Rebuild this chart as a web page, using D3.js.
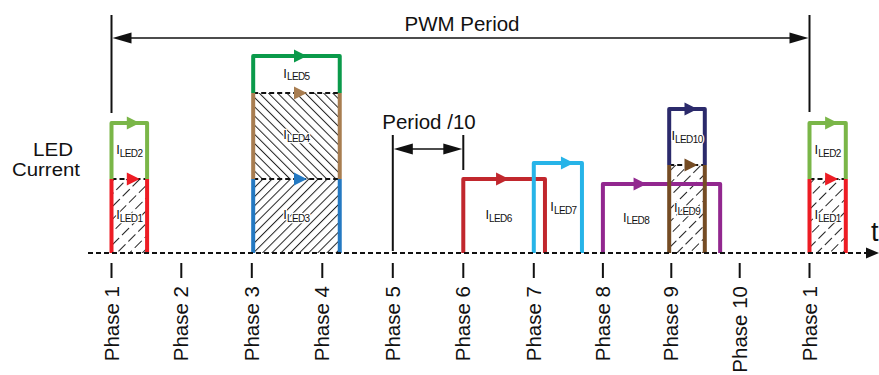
<!DOCTYPE html>
<html>
<head>
<meta charset="utf-8">
<script src="https://cdn.jsdelivr.net/npm/d3@7"></script>
<style>
  body { margin: 0; background: #fff; }
  text { font-family: "Liberation Sans", Arial, sans-serif; fill: #111; }
</style>
</head>
<body>
<div id="chart"></div>
<script>
var w = 879;
var h = 375;

// phases (x in phase units, 0 = first Phase 1)
var phaseLabels = ["Phase 1","Phase 2","Phase 3","Phase 4","Phase 5","Phase 6","Phase 7","Phase 8","Phase 9","Phase 10","Phase 1"];
var phaseTicks = [0, 1, 2.01, 3.02, 4.03, 5.04, 6.05, 7.04, 8.02, 9, 10];

// LED current pulses (x: phase units, y: relative current)
var ledNames  = ["LED1","LED2","LED3","LED4","LED5","LED6","LED7","LED8","LED9","LED10","LED1","LED2"];
var ledStart  = [0,    0,    2.03, 2.03, 2.03, 5.04, 6.05, 7.04, 7.99, 7.99, 10.0,  10.0];
var ledEnd    = [0.51, 0.51, 3.27, 3.27, 3.27, 6.21, 6.74, 8.72, 8.5,  8.5,  10.52, 10.52];
var ledLow    = [0,    37,   0,    37,   80,   0,    0,    0,    0,    44,   0,     37];
var ledHigh   = [37,   65,   37,   80,   98.5, 37,   45,   34.5, 44,   72,   37,    65];
var ledHatch  = ["/", null, "/", "\\", null, null, null, null, "/", null, "/", null];
var ledColors = ["#ed1c24","#7ab648","#2479c2","#a87d50","#0a9a4a","#c1272d","#27b4e8","#92278f","#754c24","#2b2a6b","#ed1c24","#7ab648"];

var svg = d3.select("#chart").append("svg")
  .attr("width", w).attr("height", h);

var x = d3.scaleLinear().domain([0, 10]).range([111.5, 809.5]);
var y = d3.scaleLinear().domain([0, 100]).range([253, 53]);

var defs = svg.append("defs");
function hatch(id, dir, gap, dash) {
  var p = defs.append("pattern").attr("id", id)
    .attr("patternUnits", "userSpaceOnUse")
    .attr("width", gap).attr("height", 14)
    .attr("patternTransform", "rotate(" + (dir == "/" ? 45 : -45) + ")");
  p.append("line").attr("x1", 0.5).attr("y1", 0).attr("x2", 0.5).attr("y2", 14)
    .attr("stroke", "#222").attr("stroke-width", 1)
    .attr("stroke-dasharray", dash);
}
hatch("hs", "/", 9, "10,4");   // sparse, broken
hatch("h1", "/", 6.5, null);
hatch("h2", "\\", 6.5, null);

var leds = ledNames.map(function(n, i) {
  return {name: n, s: ledStart[i], e: ledEnd[i], lo: ledLow[i], hi: ledHigh[i],
          hatch: ledHatch[i], color: ledColors[i], i: i};
});

// is something stacked on top of this pulse?
leds.forEach(function(d) {
  d.stacked = leds.some(function(o) { return o !== d && o.lo == d.hi && Math.abs(o.s - d.s) < 0.05; });
  d.narrow = (d.e - d.s) < 0.6;
  // label position: the part of the pulse not covered by a neighbour on the same base
  var a = d.s, b = d.e;
  leds.forEach(function(o) {
    if (o === d || o.lo != d.lo) return;
    if (o.s <= d.s && o.e >= d.e) return;
    if (o.s > d.s && o.s < d.e && o.e >= d.e) b = Math.min(b, o.s);
    if (o.e > d.s && o.e < d.e && o.s <= d.s) a = Math.max(a, o.e);
    if (o.s > d.s && o.e < d.e) { if (o.s - d.s > d.e - o.e) b = o.s; else a = o.e; }
  });
  d.lx = (x(a) + x(b)) / 2;
});

// hatch fills
svg.selectAll("rect.fill").data(leds.filter(function(d) { return d.hatch; }))
  .enter().append("rect")
  .attr("x", function(d) { return x(d.s); })
  .attr("y", function(d) { return y(d.hi); })
  .attr("width", function(d) { return x(d.e) - x(d.s); })
  .attr("height", function(d) { return y(d.lo) - y(d.hi); })
  .attr("fill", function(d) {
    if (d.narrow) return "url(#hs)";
    return d.hatch == "/" ? "url(#h1)" : "url(#h2)";
  });

// dashed tops where another pulse sits on top
svg.selectAll("line.top").data(leds.filter(function(d) { return d.stacked; }))
  .enter().append("line")
  .attr("x1", function(d) { return x(d.s); })
  .attr("x2", function(d) { return x(d.e); })
  .attr("y1", function(d) { return y(d.hi); })
  .attr("y2", function(d) { return y(d.hi); })
  .attr("stroke", "#111").attr("stroke-width", 2).attr("stroke-dasharray", "5,3");

// pulse outlines
svg.selectAll("path.led").data(leds).enter().append("path")
  .attr("d", function(d) {
    var x0 = x(d.s), x1 = x(d.e), y0 = y(d.lo), y1 = y(d.hi);
    if (d.stacked) return "M" + x0 + "," + y0 + "V" + y1 + "M" + x1 + "," + y1 + "V" + y0;
    return "M" + x0 + "," + y0 + "V" + y1 + "H" + x1 + "V" + y0;
  })
  .attr("fill", "none")
  .attr("stroke", function(d) { return d.color; })
  .attr("stroke-width", 4)
  .attr("stroke-linejoin", "round");

// direction arrows
svg.selectAll("path.arr").data(leds).enter().append("path")
  .attr("d", function(d) {
    var cx = d.lx + 4, cy = y(d.hi);
    return "M" + (cx - 6.5) + "," + (cy - 6.5) + "L" + (cx + 6.5) + "," + cy + "L" + (cx - 6.5) + "," + (cy + 6.5) + "Z";
  })
  .attr("fill", function(d) { return d.color; });

// labels I_LEDn
var lab = svg.selectAll("text.lab").data(leds).enter().append("text")
  .attr("x", function(d) { return d.lx; })
  .attr("y", function(d) { return (y(d.lo) + y(d.hi)) / 2 + 3; })
  .attr("text-anchor", "middle")
  .style("stroke", "#fff").style("stroke-width", 2.5).style("paint-order", "stroke")
  .style("stroke-linejoin", "round");
lab.append("tspan").attr("font-size", 13).text("I");
lab.append("tspan").attr("font-size", 10).attr("dy", 2.5).attr("letter-spacing", -0.6)
  .text(function(d) { return d.name; });

// time axis
svg.append("line").attr("x1", 88).attr("x2", 866).attr("y1", y(0)).attr("y2", y(0))
  .attr("stroke", "#111").attr("stroke-width", 2).attr("stroke-dasharray", "5,3");
svg.append("path").attr("d", "M866," + (y(0) - 5.5) + "L879," + y(0) + "L866," + (y(0) + 5.5) + "Z")
  .attr("fill", "#111");
svg.append("text").attr("x", 871).attr("y", 241).attr("font-size", 27).text("t");

// phase ticks and labels
var ph = svg.selectAll("g.ph").data(phaseTicks).enter().append("g")
  .attr("transform", function(d) { return "translate(" + x(d) + ",0)"; });
ph.append("line").attr("y1", 263).attr("y2", 278).attr("stroke", "#111").attr("stroke-width", 2);
ph.append("text")
  .attr("transform", "translate(7,286) rotate(-90)")
  .attr("text-anchor", "end")
  .attr("font-size", 20.5)
  .text(function(d, i) { return phaseLabels[i]; });

// double arrows
function dimArrow(xa, xb, yy) {
  svg.append("line").attr("x1", xa + 10).attr("x2", xb - 10).attr("y1", yy).attr("y2", yy)
    .attr("stroke", "#111").attr("stroke-width", 1.5);
  svg.append("path").attr("d", "M" + xa + "," + yy + "l19,-5.5v11Z").attr("fill", "#111");
  svg.append("path").attr("d", "M" + xb + "," + yy + "l-19,-5.5v11Z").attr("fill", "#111");
}
function vline(xx, ya, yb) {
  svg.append("line").attr("x1", xx).attr("x2", xx).attr("y1", ya).attr("y2", yb)
    .attr("stroke", "#111").attr("stroke-width", 2);
}

// PWM period
vline(x(0), 15, 113);
vline(x(10), 15, 112);
dimArrow(x(0) + 1, x(10) - 1, 38);
svg.append("text").attr("x", 462).attr("y", 31).attr("text-anchor", "middle")
  .attr("font-size", 20.5).text("PWM Period");

// Period / 10
vline(x(4.03), 135, 251);
vline(x(5.04), 135, 170);
dimArrow(x(4.03) + 1, x(5.04) - 1, 149);
svg.append("text").attr("x", 429).attr("y", 129).attr("text-anchor", "middle")
  .attr("font-size", 20.5).text("Period /10");

// y label
svg.append("text").attr("x", 33).attr("y", 156).attr("font-size", 17.5)
  .attr("textLength", 40).attr("lengthAdjust", "spacingAndGlyphs").text("LED");
svg.append("text").attr("x", 12).attr("y", 176).attr("font-size", 17.5)
  .attr("textLength", 68).attr("lengthAdjust", "spacingAndGlyphs").text("Current");
</script>
</body>
</html>
